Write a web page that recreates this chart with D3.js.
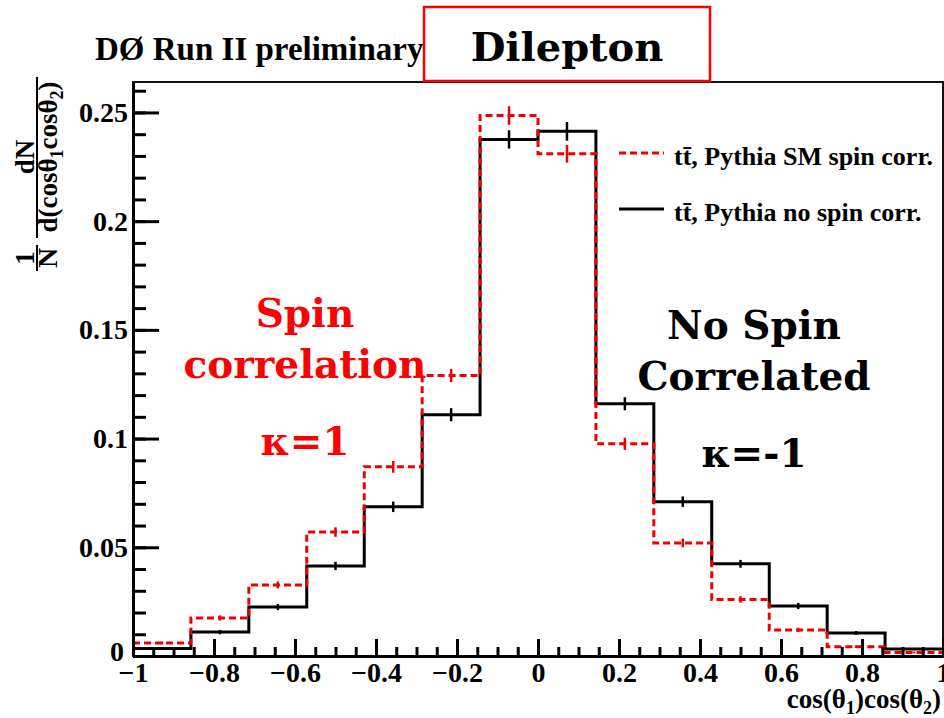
<!DOCTYPE html>
<html>
<head>
<meta charset="utf-8">
<script src="https://cdn.jsdelivr.net/npm/d3@7"></script>
<style>
  body { margin: 0; background: #fff; }
  svg { display: block; }
  .serif { font-family: "Liberation Serif", "Times New Roman", serif; font-weight: bold; }
  .slab { font-family: "DejaVu Serif", serif; font-weight: bold; }
</style>
</head>
<body>
<svg id="chart" width="944" height="718"></svg>
<script>
// bin edges of cos(theta1)cos(theta2), 14 bins
const binEdges = [-1, -0.857, -0.714, -0.571, -0.429, -0.286, -0.143, 0, 0.143, 0.286, 0.429, 0.571, 0.714, 0.857, 1];

// Pythia SM spin correlation (red dashed)
const smValues = [0.006, 0.0175, 0.0327, 0.057, 0.087, 0.129, 0.2486, 0.231, 0.0976, 0.052, 0.026, 0.012, 0.0043, 0.0016];
const smErrors = [0.0007, 0.0012, 0.0016, 0.0022, 0.0027, 0.003, 0.0043, 0.0041, 0.0028, 0.002, 0.0015, 0.001, 0.0006, 0.0004];

// Pythia no spin correlation (black solid)
const noValues = [0.0034, 0.011, 0.0225, 0.0414, 0.0686, 0.111, 0.2376, 0.2413, 0.116, 0.071, 0.0424, 0.023, 0.0106, 0.0032];
const noErrors = [0.0006, 0.001, 0.0014, 0.0019, 0.0024, 0.003, 0.0042, 0.0043, 0.003, 0.0024, 0.0018, 0.0014, 0.0009, 0.0005];

const xTicks = [-1, -0.8, -0.6, -0.4, -0.2, 0, 0.2, 0.4, 0.6, 0.8, 1];
const yTicks = [0, 0.05, 0.1, 0.15, 0.2, 0.25];
const legendLabels = ["t\u0074\u0304, Pythia SM spin corr.", "t\u0074\u0304, Pythia no spin corr."];

const svg = d3.select("#chart"),
      margin = {top: 82, right: 1, bottom: 62, left: 133},
      width = +svg.attr("width"),
      height = +svg.attr("height");

const red = "#ee0000";

const x = d3.scaleLinear().domain([-1, 1]).range([margin.left, width - margin.right]);
const y = d3.scaleLinear().domain([0, 0.264]).range([height - margin.bottom, margin.top]);

// frame
svg.append("rect")
    .attr("x", x(-1)).attr("y", y(0.264))
    .attr("width", x(1) - x(-1)).attr("height", y(0) - y(0.264))
    .attr("fill", "none").attr("stroke", "#111").attr("stroke-width", 2);

// histograms as steps
const stepLine = d3.line()
    .x(d => x(d[0]))
    .y(d => y(d[1]))
    .curve(d3.curveStepAfter);

function stepPoints(values) {
    const pts = values.map((v, i) => [binEdges[i], v]);
    pts.push([binEdges[binEdges.length - 1], values[values.length - 1]]);
    return pts;
}

function drawHist(values, errors, color, dash) {
    svg.append("path")
        .datum(stepPoints(values))
        .attr("d", stepLine)
        .attr("fill", "none")
        .attr("stroke", color)
        .attr("stroke-width", 3)
        .attr("stroke-dasharray", dash);

    svg.append("g").selectAll("line")
        .data(values)
        .join("line")
        .attr("x1", (d, i) => x((binEdges[i] + binEdges[i + 1]) / 2))
        .attr("x2", (d, i) => x((binEdges[i] + binEdges[i + 1]) / 2))
        .attr("y1", (d, i) => y(d - errors[i]))
        .attr("y2", (d, i) => y(d + errors[i]))
        .attr("stroke", color)
        .attr("stroke-width", 2.5);
}

drawHist(noValues, noErrors, "#000", null);
drawHist(smValues, smErrors, red, "7,4");

// axes
const fmt = d3.format("");
const xAxis = d3.axisBottom(x).tickValues(xTicks).tickFormat(fmt).tickSize(-17).tickSizeOuter(0).tickPadding(6);
const xAxisMinor = d3.axisBottom(x).tickValues(d3.range(-1, 1.001, 0.05)).tickFormat("").tickSize(-9).tickSizeOuter(0);
const yAxis = d3.axisLeft(y).tickValues(yTicks).tickFormat(fmt).tickSize(-26).tickSizeOuter(0).tickPadding(5);
const yAxisMinor = d3.axisLeft(y).tickValues(d3.range(0, 0.2641, 0.01)).tickFormat("").tickSize(-13).tickSizeOuter(0);

function styleAxis(g) {
    g.attr("font-family", null).attr("font-size", null);
    g.select(".domain").attr("stroke", "#000").attr("stroke-width", 3);
    g.selectAll(".tick line").attr("stroke", "#000").attr("stroke-width", 3);
    g.selectAll(".tick text")
        .attr("class", "serif")
        .attr("font-size", 28)
        .attr("fill", "#000");
}

svg.append("g").attr("transform", `translate(0,${y(0)})`).call(xAxisMinor).call(styleAxis);
svg.append("g").attr("transform", `translate(0,${y(0)})`).call(xAxis).call(styleAxis);
svg.append("g").attr("transform", `translate(${x(-1)},0)`).call(yAxisMinor).call(styleAxis);
svg.append("g").attr("transform", `translate(${x(-1)},0)`).call(yAxis).call(styleAxis)
    .selectAll(".tick text")
    .attr("dy", d => d === 0 ? "0.15em" : "0.32em")
    .attr("dx", d => d === 0 ? -4 : 0);

// x axis title
const xt = svg.append("text").attr("class", "serif")
    .attr("x", 941).attr("y", 708)
    .attr("text-anchor", "end").attr("font-size", 27);
xt.append("tspan").text("cos(θ");
xt.append("tspan").attr("font-size", 18).attr("dy", 6).text("1");
xt.append("tspan").attr("dy", -6).text(")cos(θ");
xt.append("tspan").attr("font-size", 18).attr("dy", 6).text("2");
xt.append("tspan").attr("dy", -6).text(")");

// y axis title (rotated fraction)
const yt = svg.append("g").attr("transform", "rotate(-90)");
yt.append("text").attr("class", "serif").attr("font-size", 27)
    .attr("x", -157).attr("y", 34).attr("text-anchor", "middle").text("dN");
yt.append("line").attr("x1", -238).attr("x2", -77).attr("y1", 37).attr("y2", 37)
    .attr("stroke", "#000").attr("stroke-width", 2);
const den = yt.append("text").attr("class", "serif").attr("font-size", 27)
    .attr("x", -157).attr("y", 57).attr("text-anchor", "middle");
den.append("tspan").text("d(cosθ");
den.append("tspan").attr("font-size", 18).attr("dy", 6).text("1");
den.append("tspan").attr("dy", -6).text("cosθ");
den.append("tspan").attr("font-size", 18).attr("dy", 6).text("2");
den.append("tspan").attr("dy", -6).text(")");
yt.append("text").attr("class", "serif").attr("font-size", 28)
    .attr("x", -258).attr("y", 34).attr("text-anchor", "middle").text("1");
yt.append("line").attr("x1", -271).attr("x2", -245).attr("y1", 37).attr("y2", 37)
    .attr("stroke", "#000").attr("stroke-width", 2);
yt.append("text").attr("class", "serif").attr("font-size", 28)
    .attr("x", -258).attr("y", 57).attr("text-anchor", "middle").text("N");

// title
svg.append("text").attr("class", "serif")
    .attr("x", 95).attr("y", 60).attr("font-size", 33)
    .text("DØ Run II preliminary");

// Dilepton box
svg.append("rect")
    .attr("x", 424).attr("y", 7).attr("width", 286).attr("height", 74)
    .attr("fill", "#fff").attr("stroke", "#f00").attr("stroke-width", 2.5);
svg.append("text").attr("class", "slab")
    .attr("x", 567).attr("y", 61).attr("text-anchor", "middle").attr("font-size", 40)
    .text("Dilepton");

// legend
const legend = [
    {label: legendLabels[0], color: red, dash: "7,4", ly: 153},
    {label: legendLabels[1], color: "#000", dash: null, ly: 209}
];
legend.forEach(d => {
    svg.append("line")
        .attr("x1", 619).attr("x2", 664).attr("y1", d.ly).attr("y2", d.ly)
        .attr("stroke", d.color).attr("stroke-width", 3).attr("stroke-dasharray", d.dash);
    svg.append("text").attr("class", "serif")
        .attr("x", 674).attr("y", d.ly + 12).attr("font-size", 26)
        .text(d.label);
});

// annotations
const notes = [
    {text: "Spin", x: 305, y: 327, color: "#f00"},
    {text: "correlation", x: 305, y: 378, color: "#f00"},
    {text: "κ=1", x: 305, y: 455, color: "#f00"},
    {text: "No Spin", x: 754, y: 339, color: "#000"},
    {text: "Correlated", x: 754, y: 390, color: "#000"},
    {text: "κ=-1", x: 754, y: 467, color: "#000"}
];
svg.append("g").selectAll("text")
    .data(notes)
    .join("text")
    .attr("class", "slab")
    .attr("x", d => d.x)
    .attr("y", d => d.y)
    .attr("text-anchor", "middle")
    .attr("font-size", 39)
    .attr("fill", d => d.color)
    .text(d => d.text);
</script>
</body>
</html>
